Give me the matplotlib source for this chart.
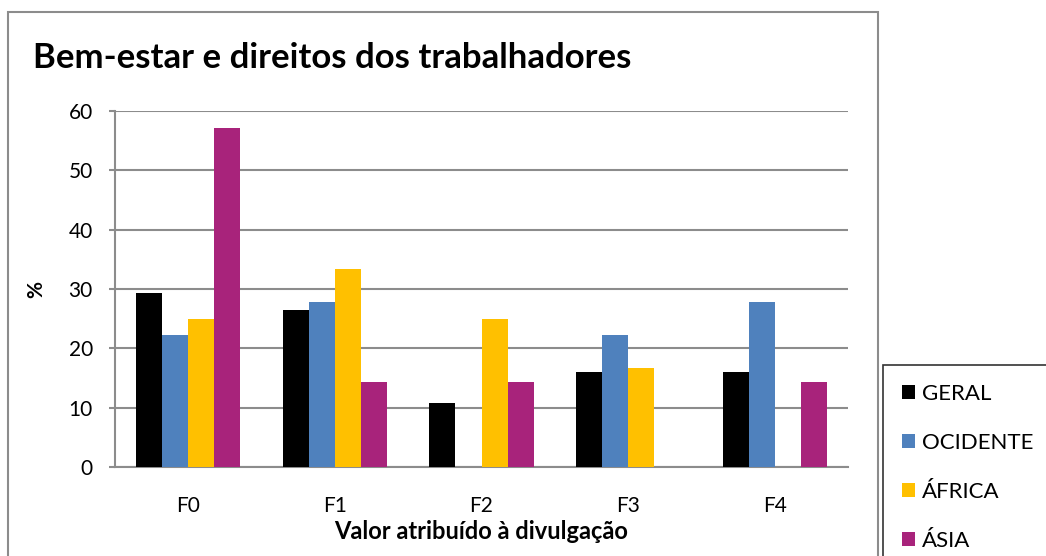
import matplotlib.pyplot as plt
import matplotlib.patches as patches
import numpy as np

plt.rcParams['font.family'] = ['Lato', 'DejaVu Sans']

# Data
categories = ['F0', 'F1', 'F2', 'F3', 'F4']
series = ['GERAL', 'OCIDENTE', 'ÁFRICA', 'ÁSIA']
geral = [29.4, 26.5, 10.8, 16.0, 16.0]
ocidente = [22.2, 27.8, 0, 22.2, 27.8]
africa = [25.0, 33.3, 25.0, 16.7, 0]
asia = [57.1, 14.3, 14.3, 0, 14.3]
colors = ['#000000', '#4F81BD', '#FFC000', '#A8237B']

W, H = 1046, 556
fig = plt.figure(figsize=(W / 100, H / 100), dpi=100)

# chart frame
fig.patches.append(patches.Rectangle((8 / W, -0.05), 870 / W, 1.05 - 12 / H,
                                     transform=fig.transFigure, fill=False,
                                     edgecolor='#8c8c8c', lw=1.5))

ax = fig.add_axes([115 / W, (H - 467) / H, 733 / W, (467 - 111) / H])

x = np.arange(len(categories))
bw = 0.178
for i, (vals, name) in enumerate(zip([geral, ocidente, africa, asia], series)):
    ax.bar(x + (i - 1.5) * bw, vals, bw, color=colors[i], label=name, zorder=3)

ax.set_xlim(-0.5, 4.5)
ax.set_ylim(0, 60)
ax.set_yticks(range(0, 61, 10))
ax.set_xticks(x)
ax.set_xticklabels(categories)
ax.yaxis.grid(True, color='#8c8c8c', lw=1.5, zorder=0)
for s in ['top', 'right']:
    ax.spines[s].set_visible(False)
for s in ['left', 'bottom']:
    ax.spines[s].set_color('#8c8c8c')
    ax.spines[s].set_linewidth(1.5)
ax.tick_params(axis='y', length=4, color='#8c8c8c', width=1.5, labelsize=15, pad=12)
ax.tick_params(axis='x', length=0, labelsize=15, pad=21)

ax.set_ylabel('%', fontsize=15, fontweight='bold', labelpad=16)
ax.set_xlabel('Valor atribuído à divulgação', fontsize=17, fontweight='bold', labelpad=3)

fig.text(33 / W, 1 - 58 / H, 'Bem-estar e direitos dos trabalhadores',
         fontsize=25, fontweight='bold', va='center', ha='left')

leg = fig.legend(loc='upper left', bbox_to_anchor=(883 / W, 1 - 365 / H),
                 fontsize=16, frameon=True, fancybox=False, edgecolor='black',
                 handlelength=0.6, handleheight=0.6, handletextpad=0.3,
                 labelspacing=1.3, borderpad=0.85, borderaxespad=0)
leg.get_frame().set_linewidth(1.2)

fig.savefig('out.png', dpi=100)
